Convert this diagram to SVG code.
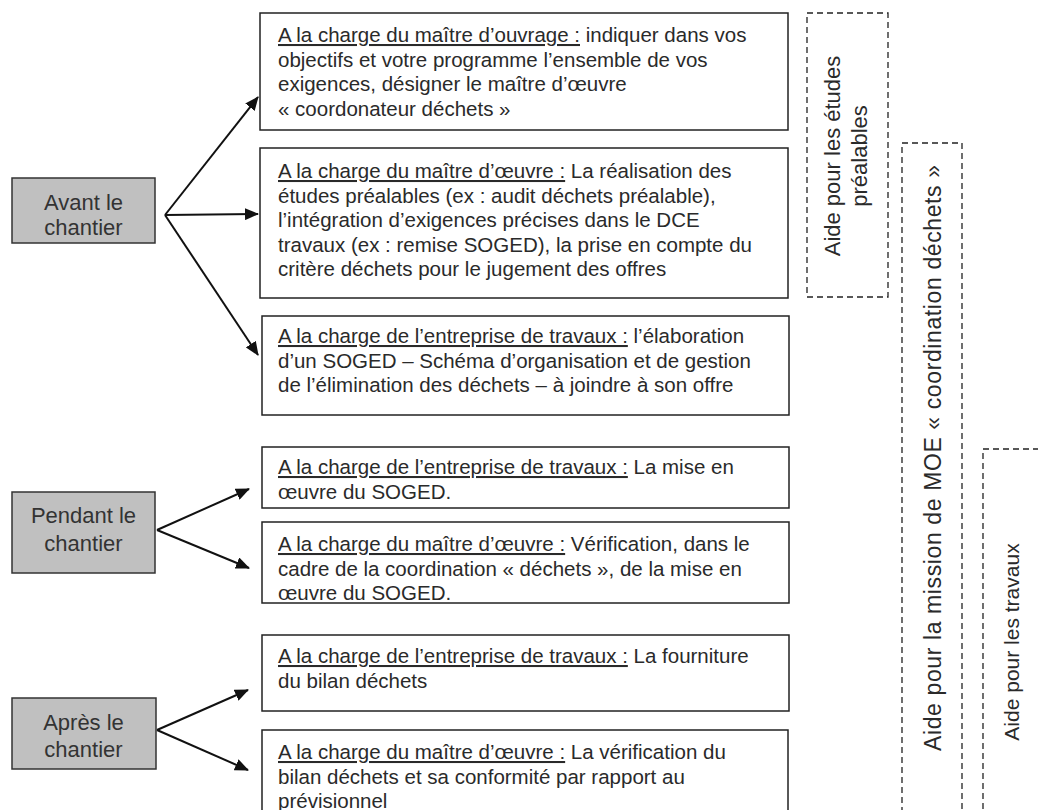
<svg xmlns="http://www.w3.org/2000/svg" width="1038" height="810" viewBox="0 0 1038 810">
<style>
.bx{fill:#fff;stroke:#222;stroke-width:1.5}
.gb{fill:#c0c0c0;stroke:#333;stroke-width:1.5}
.ds{fill:none;stroke:#222;stroke-width:1.3;stroke-dasharray:6 4}
.t{font-family:"Liberation Sans",Arial,sans-serif;font-size:20.5px;fill:#2a2a2a}
.g{font-family:"Liberation Sans",Arial,sans-serif;font-size:22px;fill:#333;text-anchor:middle}
.v{font-family:"Liberation Sans",Arial,sans-serif;font-size:22px;fill:#2a2a2a;text-anchor:middle}
.u{text-decoration:underline}
.c{fill:none;stroke:#111;stroke-width:2}
</style>
<defs>
<marker id="ah" markerWidth="14" markerHeight="12" refX="13" refY="6" orient="auto" markerUnits="userSpaceOnUse">
<path d="M0,0 L14,6 L0,12 Z" fill="#111"/>
</marker>
</defs>

<g id="avant"><rect class="gb" x="12" y="178" width="143" height="65"/>
<text class="g" x="83.5" y="210">Avant le</text><text class="g" x="83.5" y="235">chantier</text></g>
<g id="pendant"><rect class="gb" x="12" y="492" width="143" height="81"/>
<text class="g" x="83.5" y="523">Pendant le</text><text class="g" x="83.5" y="551">chantier</text></g>
<g id="apres"><rect class="gb" x="12" y="698" width="144" height="71"/>
<text class="g" x="83.5" y="730">Après le</text><text class="g" x="83.5" y="757">chantier</text></g>

<g id="box1"><rect class="bx" x="260" y="13" width="528" height="117"/>
<text class="t" x="278" y="42"><tspan class="u">A la charge du maître d’ouvrage :</tspan> indiquer dans vos</text>
<text class="t" x="278" y="66.5">objectifs et votre programme l’ensemble de vos</text>
<text class="t" x="278" y="91">exigences, désigner le maître d’œuvre</text>
<text class="t" x="278" y="115.5">« coordonateur déchets »</text></g>

<g id="box2"><rect class="bx" x="260" y="148" width="528" height="150"/>
<text class="t" x="278" y="178"><tspan class="u">A la charge du maître d’œuvre :</tspan> La réalisation des</text>
<text class="t" x="278" y="202.5">études préalables (ex : audit déchets préalable),</text>
<text class="t" x="278" y="227">l’intégration d’exigences précises dans le DCE</text>
<text class="t" x="278" y="251.5">travaux (ex : remise SOGED), la prise en compte du</text>
<text class="t" x="278" y="276">critère déchets pour le jugement des offres</text></g>

<g id="box3"><rect class="bx" x="262" y="316" width="527" height="99"/>
<text class="t" x="278" y="343"><tspan class="u">A la charge de l’entreprise de travaux :</tspan> l’élaboration</text>
<text class="t" x="278" y="367.5">d’un SOGED – Schéma d’organisation et de gestion</text>
<text class="t" x="278" y="392">de l’élimination des déchets – à joindre à son offre</text></g>

<g id="box4"><rect class="bx" x="262" y="447" width="527" height="61"/>
<text class="t" x="278" y="474"><tspan class="u">A la charge de l’entreprise de travaux :</tspan> La mise en</text>
<text class="t" x="278" y="498.5">œuvre du SOGED.</text></g>

<g id="box5"><rect class="bx" x="262" y="522" width="527" height="81"/>
<text class="t" x="278" y="551"><tspan class="u">A la charge du maître d’œuvre :</tspan> Vérification, dans le</text>
<text class="t" x="278" y="575.5">cadre de la coordination « déchets », de la mise en</text>
<text class="t" x="278" y="600">œuvre du SOGED.</text></g>

<g id="box6"><rect class="bx" x="262" y="635" width="527" height="76"/>
<text class="t" x="278" y="663"><tspan class="u">A la charge de l’entreprise de travaux :</tspan> La fourniture</text>
<text class="t" x="278" y="687.5">du bilan déchets</text></g>

<g id="box7"><rect class="bx" x="262" y="730" width="526" height="90"/>
<text class="t" x="278" y="759"><tspan class="u">A la charge du maître d’œuvre :</tspan> La vérification du</text>
<text class="t" x="278" y="783.5">bilan déchets et sa conformité par rapport au</text>
<text class="t" x="278" y="808">prévisionnel</text></g>

<g id="aide-etudes"><rect class="ds" x="807" y="13" width="81" height="284"/>
<text class="v" transform="translate(840,156) rotate(-90)">Aide pour les études</text>
<text class="v" transform="translate(867,156) rotate(-90)">préalables</text></g>

<g id="aide-moe"><rect class="ds" x="902" y="143" width="60" height="680"/>
<text class="v" style="font-size:23px" transform="translate(941,458) rotate(-90)" textLength="586" lengthAdjust="spacing">Aide pour la mission de MOE « coordination déchets »</text></g>

<g id="aide-travaux"><rect class="ds" x="983" y="449" width="80" height="380"/>
<text class="v" style="font-size:21px" transform="translate(1019,642) rotate(-90)">Aide pour les travaux</text></g>

<g id="connectors">
<path class="c" d="M165,215 L258,97" marker-end="url(#ah)"/>
<path class="c" d="M165,215 L258,214" marker-end="url(#ah)"/>
<path class="c" d="M165,215 L258,355" marker-end="url(#ah)"/>
<path class="c" d="M157,530 L249,489" marker-end="url(#ah)"/>
<path class="c" d="M157,530 L249,568" marker-end="url(#ah)"/>
<path class="c" d="M157,730 L248,690" marker-end="url(#ah)"/>
<path class="c" d="M157,730 L248,770" marker-end="url(#ah)"/>
</g>
</svg>
